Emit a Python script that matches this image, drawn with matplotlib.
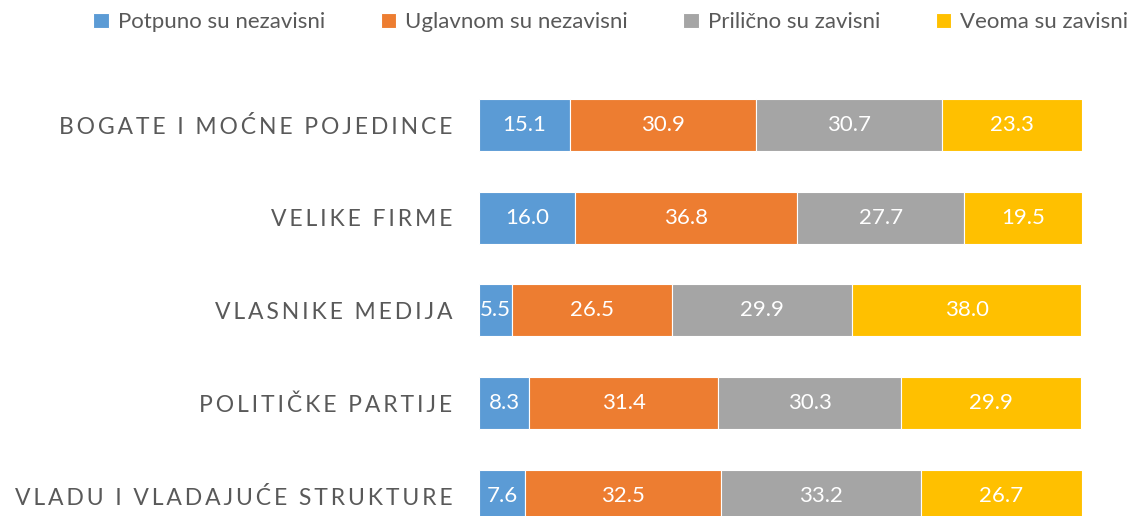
import matplotlib.pyplot as plt
import numpy as np

plt.rcParams['font.family'] = ['Lato', 'DejaVu Sans']

# categories (top to bottom) and the four answer shares
categories = ['BOGATE I MOĆNE POJEDINCE', 'VELIKE FIRME', 'VLASNIKE MEDIJA',
              'POLITIČKE PARTIJE', 'VLADU I VLADAJUĆE STRUKTURE']
series_names = ['Potpuno su nezavisni', 'Uglavnom su nezavisni',
                'Prilično su zavisni', 'Veoma su zavisni']
potpuno = [15.1, 16.0, 5.5, 8.3, 7.6]
uglavnom = [30.9, 36.8, 26.5, 31.4, 32.5]
prilicno = [30.7, 27.7, 29.9, 30.3, 33.2]
veoma = [23.3, 19.5, 38.0, 29.9, 26.7]
colors = ['#5B9BD5', '#ED7D31', '#A5A5A5', '#FFC000']


def spaced(s):
    # imitate the wide letter tracking of the original labels
    return '\u2009'.join(s)


fig = plt.figure(figsize=(11.44, 5.16), dpi=100)
ax = fig.add_axes([479 / 1144, -0.051, (1082 - 479) / 1144, 0.899])

y = np.arange(len(categories))
left = np.zeros(len(categories))
for name, vals, c in zip(series_names, [potpuno, uglavnom, prilicno, veoma], colors):
    vals = np.array(vals)
    ax.barh(y, vals, left=left, height=0.56, color=c, label=name,
            edgecolor='white', linewidth=0.8)
    for yi, l, v in zip(y, left, vals):
        ax.text(l + v / 2, yi, f'{v:.1f}', ha='center', va='center',
                color='white', fontsize=16)
    left += vals

ax.set_xlim(0, left.max())
ax.set_ylim(len(categories) - 0.5, -0.5)
ax.set_yticks(y)
ax.set_yticklabels([spaced(c) for c in categories], fontsize=16.5, color='#595959')
ax.tick_params(axis='y', length=0, pad=19)
ax.set_xticks([])
for s in ax.spines.values():
    s.set_visible(False)

fig.legend(loc='center right', bbox_to_anchor=(0.998, 0.957), ncol=4, frameon=False,
           fontsize=16, handlelength=0.7, handleheight=0.7, handletextpad=0.4,
           columnspacing=2.5, labelcolor='#595959', borderaxespad=0.2)

fig.savefig('out.png', dpi=100)
